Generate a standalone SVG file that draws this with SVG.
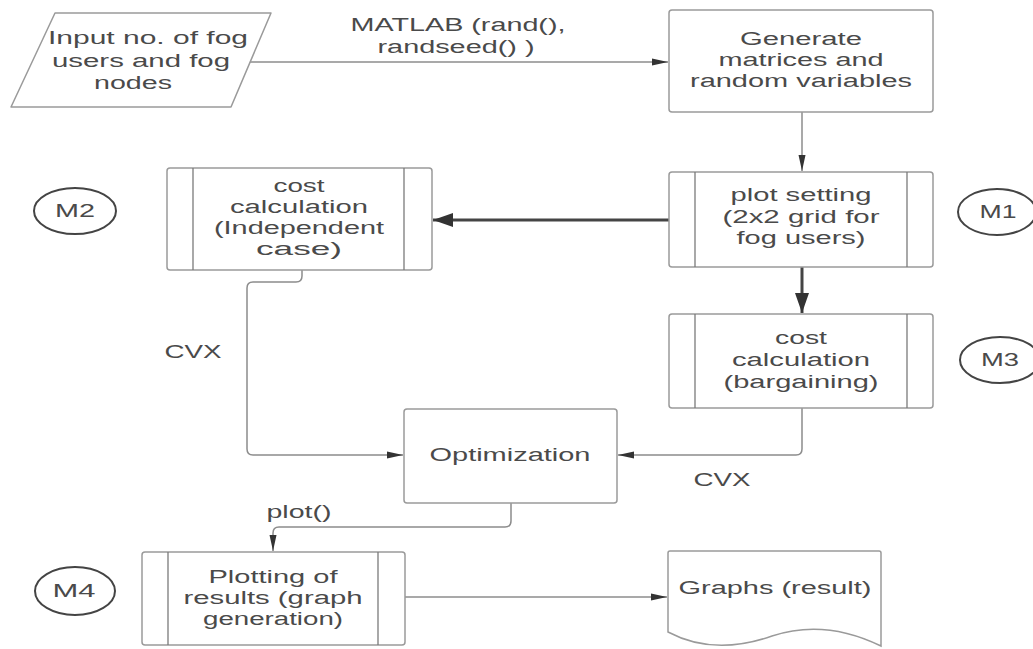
<svg xmlns="http://www.w3.org/2000/svg" width="1033" height="649" viewBox="0 0 1033 649">
<defs>
<style>
.box{fill:#fff;stroke:#9a9a9a;stroke-width:1.5}
.inner{stroke:#7a7a7a;stroke-width:1.3}
.oval{fill:#fff;stroke:#444;stroke-width:2}
.t{font-family:"Liberation Sans",Arial,sans-serif;font-size:18px;fill:#4a4a4a;text-anchor:middle}
.c{fill:none;stroke:#8c8c8c;stroke-width:1.5}
.ck{fill:none;stroke:#444;stroke-width:3}
</style>
<marker id="a" markerUnits="userSpaceOnUse" markerWidth="18" markerHeight="10" refX="16" refY="5" orient="auto">
<path d="M0,1.5 L16,5 L0,8.5 Z" fill="#333"/>
</marker>
<marker id="ak" markerUnits="userSpaceOnUse" markerWidth="22" markerHeight="18" refX="20" refY="9" orient="auto">
<path d="M0,2 L20,9 L0,16 Z" fill="#333"/>
</marker>
</defs>
<rect width="1033" height="649" fill="#fff"/>
<g id="connectors">
<path class="c" d="M250,62 H668" marker-end="url(#a)"/>
<path class="c" d="M802,112 V171" marker-end="url(#a)"/>
<path class="ck" d="M669,220 H433" marker-end="url(#ak)"/>
<path class="ck" d="M802,267 V313" marker-end="url(#ak)"/>
<path class="c" d="M802,408 V449 Q802,455 796,455 H618" marker-end="url(#a)"/>
<path class="c" d="M302,270 V276 Q302,282 296,282 H253 Q247,282 247,288 V449 Q247,455 253,455 H403" marker-end="url(#a)"/>
<path class="c" d="M511,503 V521 Q511,527 505,527 H279 Q273,527 273,533 V551" marker-end="url(#a)"/>
<path class="c" d="M405,597 H667" marker-end="url(#a)"/>
<text class="t" x="458" y="31" textLength="215" lengthAdjust="spacingAndGlyphs">MATLAB (rand(),</text>
<text class="t" x="456" y="53" textLength="157" lengthAdjust="spacingAndGlyphs">randseed() )</text>
<text class="t" x="193" y="358" textLength="57" lengthAdjust="spacingAndGlyphs">CVX</text>
<text class="t" x="722" y="486" textLength="57" lengthAdjust="spacingAndGlyphs">CVX</text>
<text class="t" x="299" y="518" textLength="65" lengthAdjust="spacingAndGlyphs">plot()</text>
</g>
<g id="input">
<path class="box" d="M55,13 H271 L231,107 H11 Z" stroke-linejoin="round"/>
<text class="t" x="148" y="44" textLength="200" lengthAdjust="spacingAndGlyphs">Input no. of fog</text>
<text class="t" x="141" y="67" textLength="178" lengthAdjust="spacingAndGlyphs">users and fog</text>
<text class="t" x="133" y="89" textLength="78" lengthAdjust="spacingAndGlyphs">nodes</text>
</g>
<g id="generate">
<rect class="box" x="669" y="10" width="264" height="102" rx="3"/>
<text class="t" x="801" y="45" textLength="122" lengthAdjust="spacingAndGlyphs">Generate</text>
<text class="t" x="801" y="66" textLength="165" lengthAdjust="spacingAndGlyphs">matrices and</text>
<text class="t" x="801" y="87" textLength="222" lengthAdjust="spacingAndGlyphs">random variables</text>
</g>
<g id="plotsetting">
<rect class="box" x="669" y="172" width="264" height="95" rx="3"/>
<line class="inner" x1="695" y1="172" x2="695" y2="267"/>
<line class="inner" x1="907" y1="172" x2="907" y2="267"/>
<text class="t" x="801" y="201" textLength="141" lengthAdjust="spacingAndGlyphs">plot setting</text>
<text class="t" x="801" y="223" textLength="157" lengthAdjust="spacingAndGlyphs">(2x2 grid for</text>
<text class="t" x="801" y="244" textLength="129" lengthAdjust="spacingAndGlyphs">fog users)</text>
</g>
<g id="costindependent">
<rect class="box" x="167" y="168" width="265" height="102" rx="3"/>
<line class="inner" x1="193" y1="168" x2="193" y2="270"/>
<line class="inner" x1="404" y1="168" x2="404" y2="270"/>
<text class="t" x="299" y="192" textLength="51" lengthAdjust="spacingAndGlyphs">cost</text>
<text class="t" x="299" y="213" textLength="138" lengthAdjust="spacingAndGlyphs">calculation</text>
<text class="t" x="299" y="234" textLength="170" lengthAdjust="spacingAndGlyphs">(Independent</text>
<text class="t" x="299" y="255" textLength="86" lengthAdjust="spacingAndGlyphs">case)</text>
</g>
<g id="costbargaining">
<rect class="box" x="669" y="314" width="264" height="94" rx="3"/>
<line class="inner" x1="695" y1="314" x2="695" y2="408"/>
<line class="inner" x1="907" y1="314" x2="907" y2="408"/>
<text class="t" x="801" y="344" textLength="52" lengthAdjust="spacingAndGlyphs">cost</text>
<text class="t" x="801" y="366" textLength="138" lengthAdjust="spacingAndGlyphs">calculation</text>
<text class="t" x="801" y="388" textLength="155" lengthAdjust="spacingAndGlyphs">(bargaining)</text>
</g>
<g id="optimization">
<rect class="box" x="404" y="409" width="213" height="94" rx="3"/>
<text class="t" x="510" y="461" textLength="161" lengthAdjust="spacingAndGlyphs">Optimization</text>
</g>
<g id="plotting">
<rect class="box" x="142" y="552" width="263" height="93" rx="3"/>
<line class="inner" x1="168" y1="552" x2="168" y2="645"/>
<line class="inner" x1="378" y1="552" x2="378" y2="645"/>
<text class="t" x="273" y="583" textLength="129" lengthAdjust="spacingAndGlyphs">Plotting of</text>
<text class="t" x="273" y="604" textLength="179" lengthAdjust="spacingAndGlyphs">results (graph</text>
<text class="t" x="273" y="625" textLength="140" lengthAdjust="spacingAndGlyphs">generation)</text>
</g>
<g id="graphs">
<path class="box" d="M668,553 Q668,551 670,551 H879 Q881,551 881,553 V646 C842,627 805,625 772,636 C735,649 700,649 668,632 Z"/>
<text class="t" x="775" y="594" textLength="193" lengthAdjust="spacingAndGlyphs">Graphs (result)</text>
</g>
<g id="m1">
<ellipse class="oval" cx="997" cy="212" rx="39" ry="23"/>
<text class="t" x="998" y="218" textLength="37" lengthAdjust="spacingAndGlyphs">M1</text>
</g>
<g id="m2">
<ellipse class="oval" cx="75" cy="211" rx="41" ry="23"/>
<text class="t" x="75" y="217" textLength="40" lengthAdjust="spacingAndGlyphs">M2</text>
</g>
<g id="m3">
<ellipse class="oval" cx="1000" cy="360" rx="40" ry="23"/>
<text class="t" x="1000" y="366" textLength="38" lengthAdjust="spacingAndGlyphs">M3</text>
</g>
<g id="m4">
<ellipse class="oval" cx="75" cy="591" rx="40" ry="24"/>
<text class="t" x="74" y="597" textLength="43" lengthAdjust="spacingAndGlyphs">M4</text>
</g>
</svg>
